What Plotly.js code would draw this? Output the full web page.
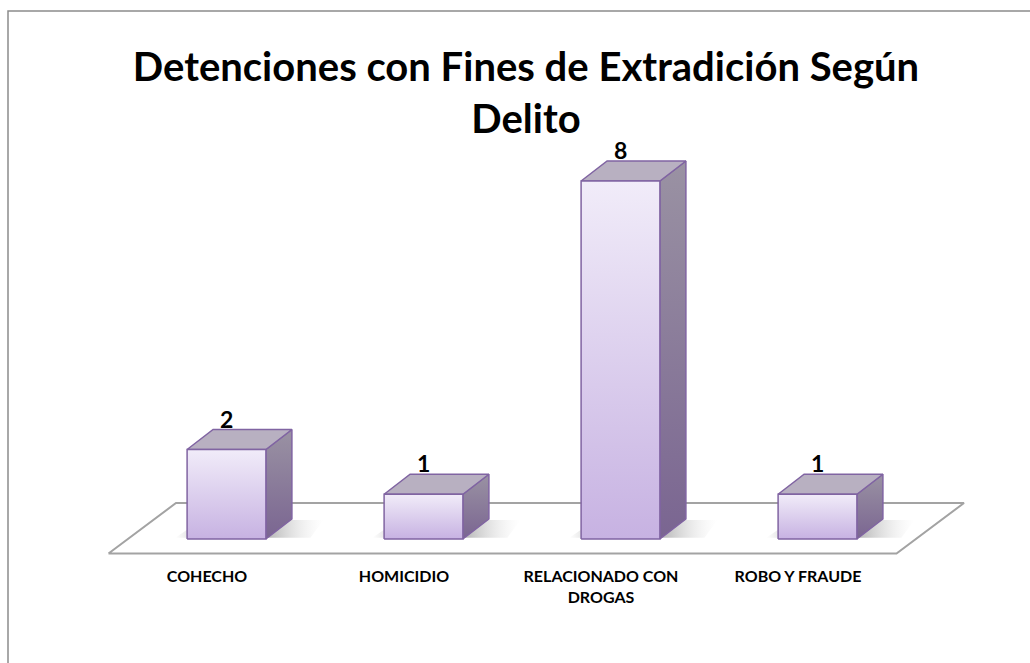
<!DOCTYPE html>
<html>
<head>
<meta charset="utf-8">
<script src="https://cdn.plot.ly/plotly-3.0.1.min.js"></script>
<style>html,body{margin:0;padding:0;background:#fff;}#chart{width:1030px;height:663px;}</style>
</head>
<body>
<div id="chart"></div>
<script>
// ---- data ----
const categories = ["COHECHO", "HOMICIDIO", "RELACIONADO CON<br>DROGAS", "ROBO Y FRAUDE"];
const values = [2, 1, 8, 1];
const chartTitle = "Detenciones con Fines de Extradición Según<br>Delito";

// ---- 3D look parameters (category units / value units) ----
const BW = 0.40;          // bar front width
const DX = 26 / 197;      // bar depth, x
const DY = 20 / 44.75;    // bar depth, y
const FLOOR_FX = -19.5 / 197, FLOOR_FY = -14.5 / 44.75;   // floor front offset
const FLOOR_BX = 48 / 197,   FLOOR_BY = 36 / 44.75;       // floor back offset
const FONT = "Lato, 'Open Sans', sans-serif";

const traces = [];
const n = categories.length;

// floor
traces.push({
  type: "scatter", mode: "lines", fill: "toself", fillcolor: "#ffffff",
  x: [-0.5 + FLOOR_FX, n - 0.5 + FLOOR_FX, n - 0.5 + FLOOR_BX, -0.5 + FLOOR_BX, -0.5 + FLOOR_FX],
  y: [FLOOR_FY, FLOOR_FY, FLOOR_BY, FLOOR_BY, FLOOR_FY],
  line: {color: "#A3A3A3", width: 2}, hoverinfo: "skip", showlegend: false
});

// soft shadows on the floor
values.forEach((v, i) => {
  const l = i - BW / 2 - 0.06, r = i + BW / 2 + DX + 0.16;
  traces.push({
    type: "scatter", mode: "lines", fill: "toself",
    x: [l, r - DX * 0.5, r, l + DX, l],
    y: [0.03, 0.03, DY * 0.95, DY * 0.95, 0.03],
    line: {width: 0, color: "rgba(0,0,0,0)"},
    fillgradient: {type: "horizontal", start: l, stop: r,
      colorscale: [[0, "rgba(180,180,180,0)"], [0.12, "rgba(170,170,170,0.4)"], [0.62, "rgba(130,130,130,0.6)"], [1, "rgba(220,220,220,0)"]]},
    hoverinfo: "skip", showlegend: false
  });
});

// bars
values.forEach((v, i) => {
  const x0 = i - BW / 2, x1 = i + BW / 2;
  // side face
  traces.push({
    type: "scatter", mode: "lines", fill: "toself",
    x: [x1, x1 + DX, x1 + DX, x1, x1],
    y: [0, DY, v + DY, v, 0],
    line: {color: "#8064A2", width: 1.5},
    fillgradient: {type: "vertical", start: 0, stop: v + DY,
      colorscale: [[0, "#7A6591"], [1, "#9A92A3"]]},
    hoverinfo: "skip", showlegend: false
  });
  // top face
  traces.push({
    type: "scatter", mode: "lines", fill: "toself", fillcolor: "#B8B0C1",
    x: [x0, x1, x1 + DX, x0 + DX, x0],
    y: [v, v, v + DY, v + DY, v],
    line: {color: "#8064A2", width: 1.5},
    hoverinfo: "skip", showlegend: false
  });
  // front face
  traces.push({
    type: "scatter", mode: "lines", fill: "toself",
    x: [x0, x1, x1, x0, x0],
    y: [0, 0, v, v, 0],
    line: {color: "#8064A2", width: 1.5},
    fillgradient: {type: "vertical", start: 0, stop: v,
      colorscale: [[0, "#C7B2E2"], [1, "#F1ECF9"]]},
    hoverinfo: "skip", showlegend: false
  });
});

const annotations = values.map((v, i) => ({
  x: i, y: v + DY, xref: "x", yref: "y", text: String(v), showarrow: false,
  yanchor: "bottom", yshift: -5, font: {family: FONT, size: 23, color: "#000", weight: "bold"}
}));

const layout = {
  width: 1030, height: 663,
  margin: {l: 0, r: 0, t: 0, b: 98, pad: 0},
  paper_bgcolor: "#ffffff", plot_bgcolor: "#ffffff",
  title: {text: chartTitle, x: 526 / 1030, xanchor: "center", y: 1 - 81 / 663, yanchor: "top",
    font: {family: FONT, size: 40, color: "#000", weight: "bold"}},
  xaxis: {range: [-226.5 / 197, (1030 - 226.5) / 197], showgrid: false, zeroline: false, showline: false,
    tickmode: "array", tickvals: categories.map((c, i) => i + FLOOR_FX), ticktext: categories,
    ticks: "", ticklen: 0, tickfont: {family: FONT, size: 16, color: "#000", weight: "bold"}, fixedrange: true},
  yaxis: {range: [-26 / 44.75, 539 / 44.75], visible: false, fixedrange: true},
  annotations: annotations,
  shapes: [{type: "rect", xref: "paper", yref: "paper", x0: 8 / 1030, x1: 1.05, y0: -0.4, y1: 1 - 11 / 565,
    line: {color: "#8C8C8C", width: 1.5}, fillcolor: "rgba(0,0,0,0)", layer: "above"}],
  showlegend: false
};

Plotly.newPlot("chart", traces, layout, {displayModeBar: false, staticPlot: true});
</script>
</body>
</html>
